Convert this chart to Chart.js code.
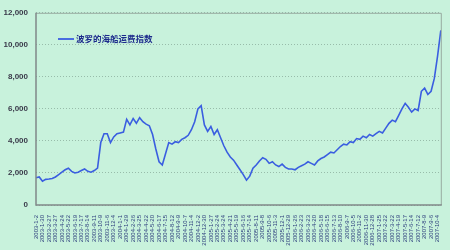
<!DOCTYPE html>
<html><head><meta charset="utf-8">
<script src="https://cdn.jsdelivr.net/npm/chart.js@4/dist/chart.umd.min.js"></script>
<style>html,body{margin:0;padding:0;background:#c8f2dc}#wrap{width:450px;height:250px}</style>
</head><body><div id="wrap"><canvas id="c" width="450" height="250"></canvas></div>
<script>
const seriesName = "波罗的海船运费指数";
const categories = [
"2003-1-2","2003-1-16","2003-1-30","2003-2-13","2003-2-27","2003-3-13","2003-3-27","2003-4-10","2003-4-24","2003-5-8","2003-5-22","2003-6-5","2003-6-19","2003-7-3","2003-7-17","2003-7-31","2003-8-14","2003-8-28","2003-9-11","2003-9-25","2003-10-9","2003-10-23","2003-11-6","2003-11-20","2003-12-4","2003-12-18",
"2004-1-1","2004-1-15","2004-1-29","2004-2-12","2004-2-26","2004-3-11","2004-3-25","2004-4-8","2004-4-22","2004-5-6","2004-5-20","2004-6-3","2004-6-17","2004-7-1","2004-7-15","2004-7-29","2004-8-12","2004-8-26","2004-9-9","2004-9-23","2004-10-7","2004-10-21","2004-11-4","2004-11-18","2004-12-2","2004-12-16","2004-12-30",
"2005-1-13","2005-1-27","2005-2-10","2005-2-24","2005-3-10","2005-3-24","2005-4-7","2005-4-21","2005-5-5","2005-5-19","2005-6-2","2005-6-16","2005-6-30","2005-7-14","2005-7-28","2005-8-11","2005-8-25","2005-9-8","2005-9-22","2005-10-6","2005-10-20","2005-11-3","2005-11-17","2005-12-1","2005-12-15","2005-12-29",
"2006-1-12","2006-1-26","2006-2-9","2006-2-23","2006-3-9","2006-3-23","2006-4-6","2006-4-20","2006-5-4","2006-5-18","2006-6-1","2006-6-15","2006-6-29","2006-7-13","2006-7-27","2006-8-10","2006-8-24","2006-9-7","2006-9-21","2006-10-5","2006-10-19","2006-11-2","2006-11-16","2006-11-30","2006-12-14","2006-12-28",
"2007-1-11","2007-1-25","2007-2-8","2007-2-22","2007-3-8","2007-3-22","2007-4-5","2007-4-19","2007-5-3","2007-5-17","2007-5-31","2007-6-14","2007-6-28","2007-7-12","2007-7-26","2007-8-9","2007-8-23","2007-9-6","2007-9-20","2007-10-4","2007-10-11"
];
const bdiValues = [
1700,1750,1480,1600,1620,1650,1750,1900,2050,2200,2300,2100,2000,2050,2150,2250,2100,2050,2150,2300,3900,4450,4450,3900,4250,4450,
4500,4550,5350,5000,5400,5100,5450,5200,5050,4950,4400,3500,2700,2500,3200,3900,3800,3950,3900,4100,4200,4350,4700,5200,6000,6200,5000,
4600,4900,4400,4700,4200,3700,3300,3000,2800,2500,2200,1900,1550,1800,2300,2500,2750,2950,2850,2600,2700,2500,2400,2550,2350,2250,
2250,2200,2350,2450,2550,2700,2600,2500,2750,2900,3000,3150,3300,3250,3450,3650,3800,3750,3950,3900,4150,4100,4300,4200,4400,4300,
4450,4600,4500,4800,5100,5300,5200,5600,6000,6350,6100,5800,6000,5900,7100,7300,6900,7100,7900,9300,10900
];
const yMin = 0, yMax = 12000, yStep = 2000;

const bgPlugin = {
  id: 'bg',
  beforeDraw(chart) {
    const ctx = chart.ctx;
    ctx.save();
    ctx.fillStyle = '#c8f2dc';
    ctx.fillRect(0, 0, chart.width, chart.height);
    ctx.restore();
  },
  afterDatasetsDraw(chart) {
    const {ctx, chartArea: a} = chart;
    ctx.save();
    ctx.lineWidth = 1;
    ctx.strokeStyle = '#98aaa0';
    ctx.beginPath();
    ctx.moveTo(a.left, a.top + 0.5); ctx.lineTo(a.right + 0.5, a.top + 0.5); ctx.lineTo(a.right + 0.5, a.bottom);
    ctx.stroke();
    ctx.strokeStyle = '#808888';
    ctx.lineWidth = 1.5;
    ctx.beginPath();
    ctx.moveTo(a.left, a.top); ctx.lineTo(a.left, a.bottom); ctx.lineTo(a.right + 1, a.bottom);
    ctx.stroke();
    // legend inside the plot
    const lx = 58, ly = 39;
    ctx.strokeStyle = '#3a5ee0';
    ctx.lineWidth = 1.8;
    ctx.beginPath(); ctx.moveTo(lx, ly); ctx.lineTo(lx + 16, ly); ctx.stroke();
    ctx.fillStyle = '#1c2a8c';
    ctx.font = 'bold 8.5px "Noto Sans CJK SC"';
    ctx.textBaseline = 'middle';
    ctx.fillText(chart.data.datasets[0].label, lx + 18, ly);
    ctx.restore();
  }
};

new Chart(document.getElementById('c'), {
  type: 'line',
  data: {
    labels: categories,
    datasets: [{
      label: seriesName,
      data: bdiValues,
      borderColor: '#3a5ee0',
      borderWidth: 1.6,
      pointRadius: 0,
      tension: 0,
      fill: false
    }]
  },
  options: {
    responsive: false,
    animation: false,
    layout: { padding: { top: 9, right: 5, left: 0, bottom: 0 } },
    plugins: { legend: { display: false }, tooltip: { enabled: false } },
    scales: {
      x: {
        grid: { display: false },
        border: { display: false },
        afterFit(s) { s.height = 45; },
        ticks: {
          autoSkip: false,
          minRotation: 90, maxRotation: 90,
          padding: 2,
          color: '#2c3c7c',
          font: { family: 'Liberation Sans', size: 6 },
          callback(v, i) { return i % 2 === 0 ? categories[i] : ''; }
        }
      },
      y: {
        min: yMin, max: yMax,
        afterFit(s) { s.width = 36; },
        grid: { color: '#98bcaa', drawTicks: false, lineWidth: 1 },
        border: { display: false, dash: [1, 2] },
        ticks: {
          stepSize: yStep,
          padding: 8,
          color: '#3a3a4a',
          font: { family: 'Liberation Sans', size: 8, weight: 'bold' },
          callback(v) { return v.toLocaleString('en-US'); }
        }
      }
    }
  },
  plugins: [bgPlugin]
});
</script></body></html>
